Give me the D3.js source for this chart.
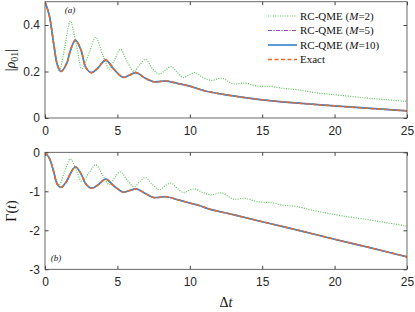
<!DOCTYPE html>
<html>
<head>
<meta charset="utf-8">
<title>RC-QME coherence decay</title>
<style>
  body { margin: 0; background: white; }
  .tick text { font-family: "Liberation Sans", Arial, sans-serif; font-size: 12px; fill: #262626; }
  .leg { font-family: "Liberation Serif", "DejaVu Serif", serif; font-size: 11px; fill: #111; }
  .lab { font-family: "Liberation Serif", "DejaVu Serif", serif; fill: #111; }
</style>
<script src="https://d3js.org/d3.v7.min.js"></script>
</head>
<body>
<div id="chart"></div>
<script>
// ---- data ----
const tExact = [0, 0.3, 0.6, 0.85, 1.1, 1.5, 1.75, 2.1, 2.5, 2.8, 3.2, 3.65, 4.2, 4.75, 5.4, 5.85, 6.3, 6.9, 7.5, 8.4, 9.2, 10, 10.7, 11.3, 13, 15, 17.5, 20, 22.5, 25];
const rhoExact = [0.5, 0.44, 0.32, 0.23, 0.2, 0.235, 0.29, 0.335, 0.29, 0.22, 0.195, 0.215, 0.249, 0.21, 0.175, 0.185, 0.195, 0.172, 0.156, 0.159, 0.148, 0.137, 0.123, 0.113, 0.095, 0.078, 0.064, 0.052, 0.041, 0.031];
const gamExact = [0, -0.15, -0.5, -0.82, -0.9, -0.74, -0.55, -0.37, -0.56, -0.8, -0.92, -0.84, -0.69, -0.86, -1.02, -0.98, -0.94, -1.05, -1.16, -1.14, -1.22, -1.3, -1.37, -1.45, -1.6, -1.78, -2.0, -2.23, -2.45, -2.68];
// M=5 and M=10 lie on top of the exact curve
const rhoM5 = rhoExact.slice(), gamM5 = gamExact.slice();
const rhoM10 = rhoExact.slice(), gamM10 = gamExact.slice();

const tM2 = [0, 0.3, 0.6, 0.85, 1.0, 1.35, 1.75, 2.15, 2.55, 3.05, 3.5, 4.0, 4.45, 4.8, 5.2, 5.7, 6.15, 6.55, 6.95, 7.45, 7.9, 8.3, 8.7, 9.15, 9.55, 9.95, 10.35, 10.9, 11.5, 12.2, 13.0, 13.8, 14.7, 15.6, 16.5, 17.4, 18.5, 19.5, 20.5, 22, 23.5, 25];
const rhoM2 = [0.5, 0.44, 0.31, 0.225, 0.205, 0.3, 0.416, 0.32, 0.212, 0.28, 0.347, 0.27, 0.21, 0.25, 0.295, 0.24, 0.2, 0.23, 0.252, 0.21, 0.189, 0.205, 0.221, 0.195, 0.174, 0.185, 0.195, 0.175, 0.162, 0.171, 0.147, 0.15, 0.137, 0.136, 0.127, 0.122, 0.11, 0.103, 0.097, 0.087, 0.079, 0.071];
const gamM2 = [0, -0.15, -0.5, -0.78, -0.83, -0.5, -0.17, -0.45, -0.75, -0.52, -0.32, -0.6, -0.83, -0.66, -0.5, -0.72, -0.88, -0.75, -0.65, -0.84, -0.96, -0.86, -0.79, -0.93, -1.03, -0.98, -0.94, -1.03, -1.09, -1.04, -1.2, -1.18, -1.27, -1.29, -1.36, -1.39, -1.49, -1.56, -1.63, -1.71, -1.8, -1.89];

const xTicks = [0, 5, 10, 15, 20, 25];
const rhoTicks = [0, 0.2, 0.4];
const gamTicks = [0, -1, -2, -3];
const legendLabels = ["M=2", "M=5", "M=10", "Exact"];

// ---- layout ----
const W = 415, H = 312;
const svg = d3.select("#chart").append("svg")
  .attr("width", W).attr("height", H);

const x = d3.scaleLinear().domain([0, 25]).range([45, 407]);
const yTop = d3.scaleLinear().domain([0, 0.5]).range([118, 1.75]);
const yBot = d3.scaleLinear().domain([-3, 0]).range([269.3, 152.3]);

const styles = [
  {color: "#5cc25a", dash: "1,1.4", width: 1.2},
  {color: "#9a46b6", dash: "4,1.5,1,1.5", width: 1.2},
  {color: "#3c88cc", dash: null, width: 1.7},
  {color: "#e56a28", dash: "4,2.5", width: 1.6}
];

function panel(y, ticks, tickFmt, series, id) {
  const [y0, y1] = y.range();
  const x0 = x.range()[0], x1 = x.range()[1];

  svg.append("clipPath").attr("id", id)
    .append("rect").attr("x", x0).attr("y", y1).attr("width", x1 - x0).attr("height", y0 - y1);

  const g = svg.append("g");
  // ticks inside on all four sides
  g.append("g").attr("transform", `translate(0,${y0})`)
    .call(d3.axisBottom(x).tickValues(xTicks).tickSizeInner(-3.5).tickSizeOuter(0).tickPadding(8))
    .call(a => a.select(".domain").remove());
  g.append("g").attr("transform", `translate(0,${y1})`)
    .call(d3.axisTop(x).tickValues(xTicks).tickSizeInner(-3.5).tickSizeOuter(0).tickFormat(""))
    .call(a => a.select(".domain").remove());
  g.append("g").attr("transform", `translate(${x0},0)`)
    .call(d3.axisLeft(y).tickValues(ticks).tickSizeInner(-3.5).tickSizeOuter(0).tickPadding(5).tickFormat(tickFmt))
    .call(a => a.select(".domain").remove());
  g.append("g").attr("transform", `translate(${x1},0)`)
    .call(d3.axisRight(y).tickValues(ticks).tickSizeInner(-3.5).tickSizeOuter(0).tickFormat(""))
    .call(a => a.select(".domain").remove());
  g.selectAll(".tick line").attr("stroke", "#444");

  const line = d3.line().x(d => x(d[0])).y(d => y(d[1])).curve(d3.curveCatmullRom.alpha(0.5));
  series.forEach((s, i) => {
    const p = svg.append("path")
      .datum(s.t.map((t, k) => [t, s.v[k]]))
      .attr("clip-path", `url(#${id})`)
      .attr("fill", "none")
      .attr("stroke", styles[i].color)
      .attr("stroke-width", styles[i].width)
      .attr("d", line);
    if (styles[i].dash) p.attr("stroke-dasharray", styles[i].dash);
  });

  svg.append("rect").attr("x", x0).attr("y", y1).attr("width", x1 - x0).attr("height", y0 - y1)
    .attr("fill", "none").attr("stroke", "#444").attr("stroke-width", 0.8);
}

const fmtTop = d => d === 0 ? "0" : d3.format(".1f")(d);
const fmtBot = d => d === 0 ? "0" : "-" + Math.abs(d);

panel(yTop, rhoTicks, fmtTop, [
  {t: tM2, v: rhoM2}, {t: tExact, v: rhoM5}, {t: tExact, v: rhoM10}, {t: tExact, v: rhoExact}
], "clipTop");
panel(yBot, gamTicks, fmtBot, [
  {t: tM2, v: gamM2}, {t: tExact, v: gamM5}, {t: tExact, v: gamM10}, {t: tExact, v: gamExact}
], "clipBot");

// ---- legend ----
const leg = svg.append("g");
legendLabels.forEach((lab, i) => {
  const yy = 16 + i * 14.5;
  const l = leg.append("line").attr("x1", 268).attr("x2", 297).attr("y1", yy).attr("y2", yy)
    .attr("stroke", styles[i].color).attr("stroke-width", styles[i].width);
  if (styles[i].dash) l.attr("stroke-dasharray", styles[i].dash);
  const t = leg.append("text").attr("class", "leg").attr("x", 300).attr("y", yy + 3.8);
  if (lab === "Exact") {
    t.text("Exact");
  } else {
    const m = lab.split("=")[1];
    t.append("tspan").text("RC-QME (");
    t.append("tspan").attr("font-style", "italic").text("M");
    t.append("tspan").text("=" + m + ")");
  }
});

// ---- panel tags and axis labels ----
svg.append("text").attr("class", "lab").attr("x", 70).attr("y", 13)
  .attr("text-anchor", "middle").attr("font-size", 9).attr("font-style", "italic").text("(a)");
svg.append("text").attr("class", "lab").attr("x", 56).attr("y", 261)
  .attr("text-anchor", "middle").attr("font-size", 9).attr("font-style", "italic").text("(b)");

const yl1 = svg.append("text").attr("class", "lab").attr("font-size", 14)
  .attr("text-anchor", "middle").attr("transform", "translate(15,60) rotate(-90)");
yl1.append("tspan").text("|");
yl1.append("tspan").attr("font-style", "italic").text("ρ");
yl1.append("tspan").attr("font-size", 10).attr("dy", 3).text("01");
yl1.append("tspan").attr("dy", -3).text("|");

const yl2 = svg.append("text").attr("class", "lab").attr("font-size", 14)
  .attr("text-anchor", "middle").attr("transform", "translate(16,211) rotate(-90)");
yl2.append("tspan").text("Γ(");
yl2.append("tspan").attr("font-style", "italic").text("t");
yl2.append("tspan").text(")");

const xl = svg.append("text").attr("class", "lab").attr("font-size", 14)
  .attr("text-anchor", "middle").attr("x", 226).attr("y", 307);
xl.append("tspan").text("Δ");
xl.append("tspan").attr("font-style", "italic").text("t");
</script>
</body>
</html>
